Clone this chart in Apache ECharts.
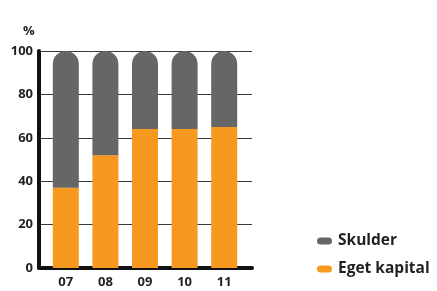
<!DOCTYPE html>
<html>
<head>
<meta charset="utf-8">
<script src="https://cdn.jsdelivr.net/npm/echarts@6/dist/echarts.min.js"></script>
<style>
html, body { margin: 0; padding: 0; background: #fff; }
#main { width: 437px; height: 291px; }
</style>
</head>
<body>
<div id="main"></div>
<script>
// år och andelar i procent
var years = ['07', '08', '09', '10', '11'];
var egetKapital = [37, 52, 64, 64, 65];
var skulder = [63, 48, 36, 36, 35];
var yTicks = [0, 20, 40, 60, 80, 100];

var font = '"Open Sans", "Noto Sans", sans-serif';
var textColor = '#231f20';

var myChart = echarts.init(document.getElementById('main'));

var option = {
    animation: false,
    title: {
        text: '%',
        left: 18,
        top: 20,
        textStyle: { fontFamily: font, fontSize: 13, fontWeight: 'bold', color: textColor }
    },
    legend: {
        orient: 'vertical',
        left: 312,
        top: 228,
        itemWidth: 15,
        itemHeight: 7,
        itemGap: 12,
        icon: 'path://M3.5,0 L11.5,0 A3.5,3.5 0 0 1 11.5,7 L3.5,7 A3.5,3.5 0 0 1 3.5,0 Z',
        data: ['Skulder', 'Eget kapital'],
        textStyle: { fontFamily: font, fontSize: 15.5, fontWeight: 'bold', color: textColor, padding: [0, 0, 0, 1] }
    },
    grid: [
        // rutnät och axlar
        { left: 39, right: 185, top: 51, bottom: 23 },
        // staplar
        { left: 46, width: 198, top: 51, bottom: 23 }
    ],
    xAxis: [
        {
            gridIndex: 0, type: 'value', min: 0, max: 1,
            axisLine: { show: true, lineStyle: { color: '#111', width: 4, cap: 'round' } },
            axisTick: { show: false }, axisLabel: { show: false }, splitLine: { show: false }
        },
        {
            gridIndex: 1, type: 'category', data: years,
            axisLine: { show: false }, axisTick: { show: false },
            axisLabel: { margin: 8, fontFamily: font, fontSize: 13, fontWeight: 'bold', color: textColor }
        }
    ],
    yAxis: [
        {
            gridIndex: 0, type: 'value', min: 0, max: 100, interval: 20,
            axisLine: { show: true, lineStyle: { color: '#111', width: 4, cap: 'round' } },
            axisTick: { show: false },
            axisLabel: {
                margin: 6, fontFamily: font, fontSize: 13, fontWeight: 'bold', color: textColor,
                formatter: function (v) { return yTicks.indexOf(v) >= 0 ? String(v) : ''; }
            },
            splitLine: { show: true, lineStyle: { color: '#3a3a3a', width: 1 } }
        },
        {
            gridIndex: 1, type: 'value', min: 0, max: 100, show: false
        }
    ],
    series: [
        {
            name: 'Eget kapital',
            type: 'bar',
            stack: 'total',
            xAxisIndex: 1,
            yAxisIndex: 1,
            barWidth: 26,
            itemStyle: { color: '#f7981f' },
            data: egetKapital
        },
        {
            name: 'Skulder',
            type: 'bar',
            stack: 'total',
            xAxisIndex: 1,
            yAxisIndex: 1,
            barWidth: 26,
            itemStyle: { color: '#666666', borderRadius: [13, 13, 0, 0] },
            data: skulder
        }
    ]
};

myChart.setOption(option);
</script>
</body>
</html>
